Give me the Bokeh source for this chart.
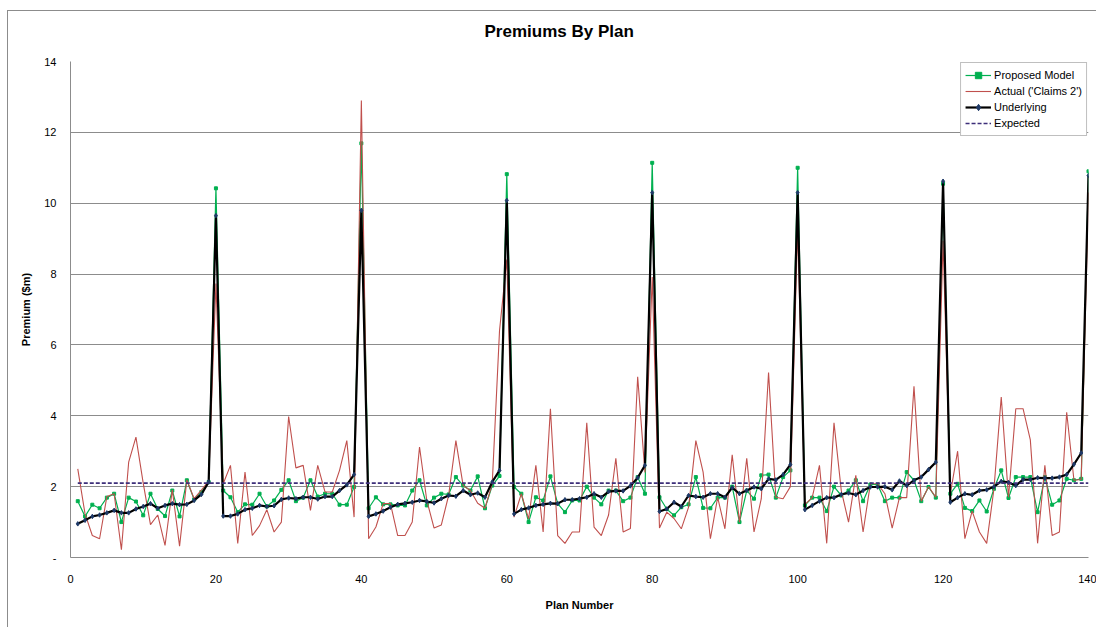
from bokeh.plotting import figure
from bokeh.models import Legend, LegendItem, FixedTicker, Range1d, Title
from bokeh.embed import file_html
from bokeh.resources import INLINE

# ---------------- data ----------------
plan = list(range(1, 141))

proposed = [
    1.59, 1.16, 1.49, 1.39, 1.69, 1.80, 1.00, 1.69, 1.58, 1.19,
    1.80, 1.37, 1.17, 1.89, 1.16, 2.18, 1.64, 1.85, 2.13, 10.42,
    1.89, 1.70, 1.28, 1.50, 1.49, 1.80, 1.44, 1.61, 1.91, 2.18,
    1.59, 1.69, 2.18, 1.72, 1.80, 1.80, 1.49, 1.49, 1.99, 11.69,
    1.39, 1.70, 1.50, 1.50, 1.47, 1.47, 1.89, 2.18, 1.47, 1.69,
    1.80, 1.78, 2.27, 2.03, 1.89, 2.29, 1.39, 2.03, 2.30, 10.82,
    1.99, 1.80, 1.00, 1.70, 1.61, 2.29, 1.52, 1.28, 1.61, 1.61,
    2.00, 1.69, 1.50, 1.89, 1.89, 1.59, 1.69, 2.27, 1.80, 11.14,
    1.70, 1.37, 1.19, 1.42, 1.50, 2.27, 1.40, 1.39, 1.69, 1.69,
    2.00, 1.00, 1.89, 1.66, 2.32, 2.34, 1.69, 2.27, 2.46, 11.00,
    1.47, 1.69, 1.69, 1.31, 2.00, 1.75, 1.89, 2.18, 1.59, 2.06,
    2.06, 1.59, 1.69, 1.69, 2.41, 2.18, 1.59, 1.99, 1.69, 10.55,
    1.80, 2.08, 1.40, 1.31, 1.61, 1.30, 1.94, 2.46, 1.68, 2.27,
    2.27, 2.27, 1.28, 2.27, 1.49, 1.61, 2.22, 2.18, 2.22, 10.90,
]

actual = [
    2.50, 1.23, 0.62, 0.53, 1.72, 1.80, 0.22, 2.69, 3.40, 2.10,
    0.93, 1.20, 0.34, 1.91, 0.32, 2.19, 1.66, 1.90, 2.16, 7.73,
    2.08, 2.60, 0.40, 2.41, 0.62, 0.90, 1.35, 0.72, 1.00, 3.98,
    2.53, 2.60, 1.33, 2.60, 1.85, 1.85, 2.46, 3.30, 1.14, 12.90,
    0.53, 0.86, 1.52, 1.52, 0.62, 0.62, 1.00, 3.12, 1.61, 0.83,
    0.92, 1.75, 3.30, 2.03, 1.89, 1.53, 1.39, 2.08, 6.40, 8.41,
    1.14, 1.80, 1.09, 2.60, 0.72, 4.20, 0.62, 0.40, 0.72, 0.72,
    3.80, 0.86, 0.62, 1.20, 2.80, 0.72, 0.82, 5.10, 2.40, 7.92,
    0.83, 1.28, 1.10, 0.81, 1.42, 3.30, 2.41, 0.53, 1.70, 0.81,
    2.90, 1.00, 2.80, 0.72, 1.66, 5.22, 1.70, 1.66, 2.00, 9.30,
    1.50, 1.69, 2.60, 0.40, 3.80, 1.89, 1.00, 2.32, 0.72, 2.08,
    2.08, 1.80, 0.83, 1.69, 1.69, 4.83, 1.59, 2.00, 1.70, 8.94,
    1.80, 3.00, 0.53, 1.31, 0.72, 0.40, 1.94, 4.53, 1.70, 4.20,
    4.20, 3.32, 0.40, 2.60, 0.62, 0.72, 4.10, 2.18, 2.20, 10.30,
]

underlying = [
    0.95, 1.05, 1.16, 1.20, 1.26, 1.33, 1.26, 1.26, 1.37, 1.44,
    1.52, 1.39, 1.47, 1.52, 1.49, 1.50, 1.61, 1.78, 2.13, 9.65,
    1.17, 1.17, 1.23, 1.35, 1.39, 1.47, 1.44, 1.46, 1.64, 1.68,
    1.66, 1.70, 1.70, 1.65, 1.72, 1.72, 1.89, 2.05, 2.34, 9.80,
    1.16, 1.23, 1.31, 1.42, 1.50, 1.53, 1.56, 1.61, 1.58, 1.54,
    1.66, 1.75, 1.73, 1.89, 1.77, 1.82, 1.70, 2.13, 2.46, 10.08,
    1.23, 1.35, 1.40, 1.47, 1.50, 1.53, 1.52, 1.63, 1.63, 1.66,
    1.70, 1.80, 1.70, 1.86, 1.88, 1.88, 2.02, 2.25, 2.60, 10.30,
    1.30, 1.37, 1.56, 1.44, 1.75, 1.72, 1.70, 1.80, 1.80, 1.70,
    1.97, 1.80, 1.89, 1.99, 1.94, 2.22, 2.19, 2.34, 2.62, 10.30,
    1.35, 1.47, 1.59, 1.69, 1.69, 1.78, 1.82, 1.77, 1.89, 1.99,
    1.99, 2.00, 1.91, 2.16, 2.03, 2.18, 2.27, 2.48, 2.69, 10.62,
    1.56, 1.69, 1.80, 1.77, 1.89, 1.91, 2.00, 2.15, 2.12, 2.03,
    2.20, 2.20, 2.25, 2.24, 2.24, 2.27, 2.34, 2.63, 2.95, 10.78,
]

expected_level = 2.1
expected = [expected_level for _ in plan]

x_ticks = [0, 20, 40, 60, 80, 100, 120, 140]
y_ticks = [0, 2, 4, 6, 8, 10, 12, 14]
y_label_overrides = {0: "-"}

chart_title = "Premiums By Plan"
series_names = ["Proposed Model", "Actual ('Claims 2')", "Underlying", "Expected"]

# ---------------- figure ----------------
FONT = "Liberation Sans"
GRID = "#8c8c8c"

p = figure(
    width=1089, height=617,
    output_backend="svg", toolbar_location=None,
    x_range=Range1d(0, 140), y_range=Range1d(0, 14),
    min_border_left=62, min_border_right=9,
    min_border_top=50, min_border_bottom=71,
)
p.styles = {
    "margin-left": "7px",
    "margin-top": "10px",
    "border-left": "1px solid #8c8c8c",
    "border-top": "1px solid #8c8c8c",
}
p.background_fill_color = "white"
p.border_fill_color = "white"
p.outline_line_color = None

# small spacer panel between the frame and the title, then the title itself
spacer = Title(text=" ", text_font_size="2px", standoff=10)
p.add_layout(spacer, "above")
main_title = Title(
    text=chart_title, align="left", offset=414, standoff=14,
    text_font=FONT, text_font_size="17px", text_font_style="bold",
    text_color="black",
)
p.add_layout(main_title, "above")

# axes
p.xaxis.ticker = FixedTicker(ticks=x_ticks)
p.yaxis.ticker = FixedTicker(ticks=y_ticks)
p.yaxis.major_label_overrides = y_label_overrides
for ax in (p.xaxis, p.yaxis):
    ax.axis_line_color = GRID
    ax.major_tick_line_color = None
    ax.minor_tick_line_color = None
    ax.major_tick_out = 0
    ax.major_tick_in = 0
    ax.major_label_text_color = "black"
    ax.major_label_text_font = FONT
    ax.major_label_text_font_size = "11px"
    ax.axis_label_text_font = FONT
    ax.axis_label_text_font_size = "11px"
    ax.axis_label_text_font_style = "bold"
    ax.axis_label_text_color = "black"
p.xaxis.axis_label = "Plan Number"
p.yaxis.axis_label = "Premium ($m)"
p.xaxis.major_label_standoff = 17
p.yaxis.major_label_standoff = 14
p.xaxis.axis_label_standoff = 13
p.yaxis.axis_label_standoff = 9

p.xgrid.grid_line_color = None
p.ygrid.grid_line_color = GRID
p.ygrid.grid_line_width = 1

# series
r_green_l = p.line(plan, proposed, line_color="#00B050", line_width=1.2)
r_green_m = p.scatter(plan, proposed, marker="square", size=3,
                      fill_color="#00B050", line_color="#00B050")
r_red = p.line(plan, actual, line_color="#C0504D", line_width=1.1)
r_black_l = p.line(plan, underlying, line_color="black", line_width=2.2)
r_black_m = p.scatter(plan, underlying, marker="diamond", size=4.5,
                      fill_color="#1F3A68", line_color="#1F3A68")
r_exp = p.line(plan, expected, line_color="#3D2F7A", line_width=1.6, line_dash="4 2")

legend = Legend(items=[
    LegendItem(label=series_names[0], renderers=[r_green_l, r_green_m]),
    LegendItem(label=series_names[1], renderers=[r_red]),
    LegendItem(label=series_names[2], renderers=[r_black_l, r_black_m]),
    LegendItem(label=series_names[3], renderers=[r_exp]),
])
legend.location = "top_right"
legend.margin = 1
legend.padding = 4
legend.spacing = 0
legend.label_height = 16
legend.glyph_height = 16
legend.glyph_width = 26
legend.label_standoff = 3
legend.label_text_font = FONT
legend.label_text_font_size = "11px"
legend.label_text_color = "black"
legend.border_line_color = "#808080"
legend.border_line_width = 1
legend.background_fill_color = "white"
legend.background_fill_alpha = 1.0
p.add_layout(legend)

open("out.html", "w").write(file_html(p, INLINE))
